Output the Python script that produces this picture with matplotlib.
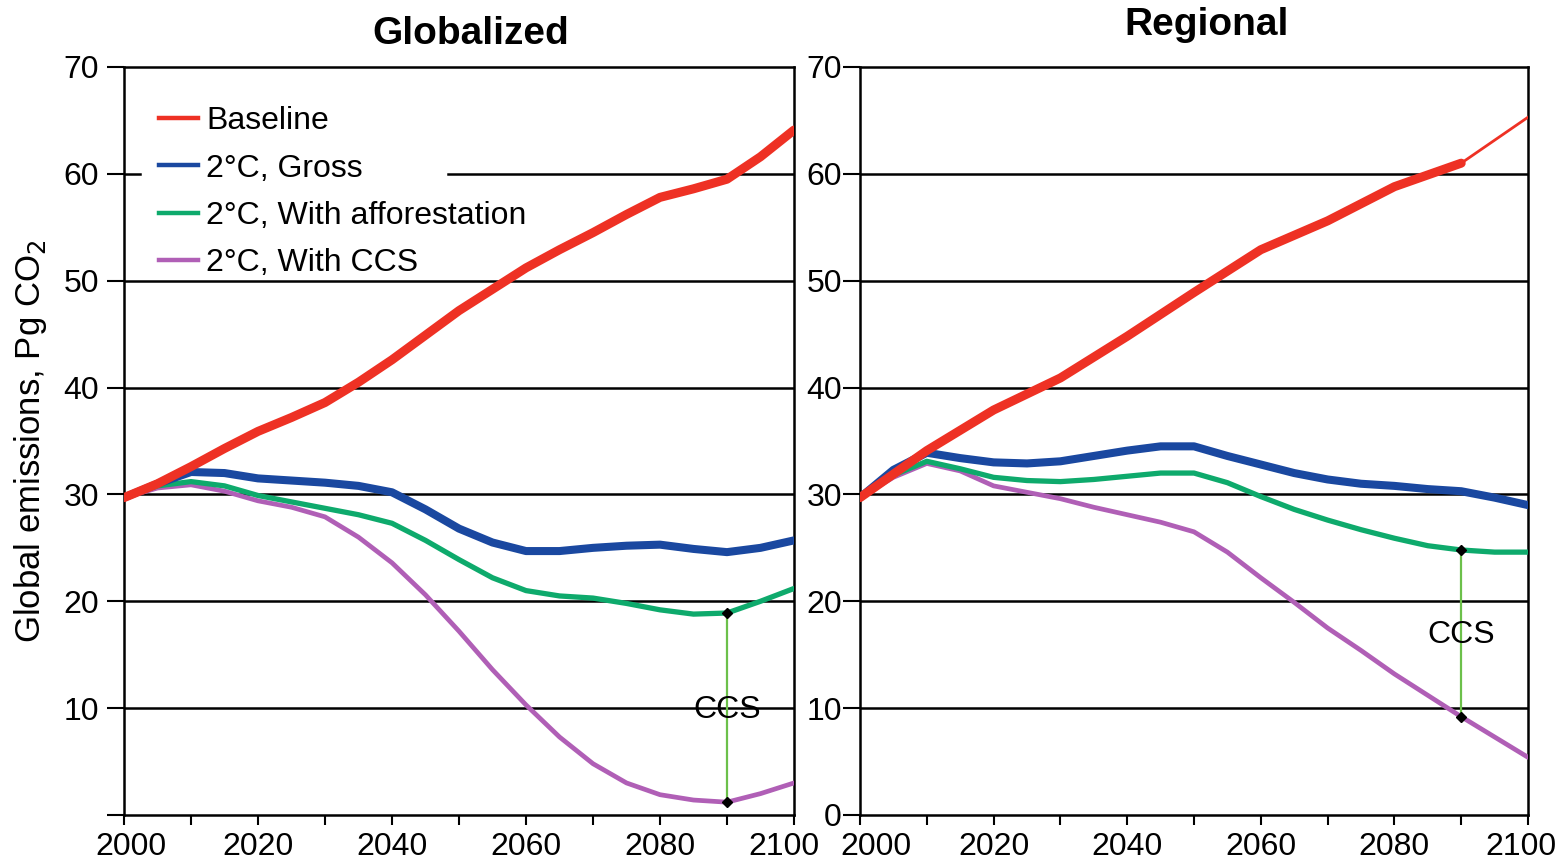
import matplotlib
matplotlib.use("Agg")
import matplotlib.pyplot as plt
from matplotlib.lines import Line2D
from matplotlib.transforms import ScaledTranslation

plt.rcParams['font.family'] = ['Liberation Sans', 'DejaVu Sans']

# ---- data (Pg CO2 per year) ----
years5 = list(range(2000, 2101, 5))
years10 = list(range(2000, 2101, 10))

glob_baseline = [29.7, 31.0, 32.6, 34.3, 35.9, 37.2, 38.6, 40.5, 42.6, 44.9, 47.2,
                 49.2, 51.2, 52.9, 54.5, 56.2, 57.8, 58.6, 59.5, 61.6, 64.1]
glob_gross = [29.7, 31.0, 32.1, 32.0, 31.5, 31.3, 31.1, 30.8, 30.2, 28.6, 26.8,
              25.5, 24.7, 24.7, 25.0, 25.2, 25.3, 24.9, 24.6, 25.0, 25.7]
glob_affor = [29.7, 30.8, 31.2, 30.8, 29.9, 29.3, 28.7, 28.1, 27.3, 25.7, 23.9,
              22.2, 21.0, 20.5, 20.3, 19.8, 19.2, 18.8, 18.9, 20.0, 21.2]
glob_ccs = [29.7, 30.6, 30.9, 30.3, 29.4, 28.8, 27.9, 26.0, 23.6, 20.6, 17.2,
            13.6, 10.3, 7.3, 4.8, 3.0, 1.9, 1.4, 1.2, 2.0, 3.0]

reg_baseline = [29.7, 34.1, 37.9, 40.9, 44.8, 48.9, 52.9, 55.6, 58.8, 61.0, 65.3]
reg_gross = [29.7, 32.3, 33.9, 33.4, 33.0, 32.9, 33.1, 33.6, 34.1, 34.5, 34.5,
             33.6, 32.8, 32.0, 31.4, 31.0, 30.8, 30.5, 30.3, 29.7, 29.0]
reg_affor = [29.7, 31.8, 33.1, 32.4, 31.6, 31.3, 31.2, 31.4, 31.7, 32.0, 32.0,
             31.1, 29.8, 28.6, 27.6, 26.7, 25.9, 25.2, 24.8, 24.6, 24.6]
reg_ccs = [29.7, 31.6, 32.9, 32.2, 30.8, 30.2, 29.6, 28.8, 28.1, 27.4, 26.5,
           24.6, 22.2, 19.9, 17.5, 15.4, 13.2, 11.2, 9.2, 7.3, 5.4]

ccs_year = 2090
glob_ccs_span = (18.9, 1.2)
reg_ccs_span = (24.8, 9.2)

labels = ["Baseline", "2°C, Gross", "2°C, With afforestation", "2°C, With CCS"]
c_red = "#ee3124"
c_blue = "#1a48a0"
c_green = "#0eaa6c"
c_purple = "#b05fb6"
c_ccs = "#6cc04a"

FS = 23

fig = plt.figure(figsize=(15.64, 8.67), dpi=100)
ax1 = fig.add_axes([124/1564, 1-815/867, 670/1564, 748/867])
ax2 = fig.add_axes([860/1564, 1-815/867, 668/1564, 748/867])


def style(ax, show_zero, gap60=None, pad=4, end_shift=(0, 0)):
    ax.set_xlim(2000, 2100)
    ax.set_ylim(0, 70)
    ax.set_xticks(years10, minor=True)
    ax.set_xticks(list(range(2000, 2101, 20)))
    ax.set_yticks(list(range(0, 71, 10)))
    ax.set_yticklabels([("0" if show_zero else "") if v == 0 else str(v)
                        for v in range(0, 71, 10)])
    ax.tick_params(axis='x', which='both', direction='out', length=7, width=1.5,
                   labelsize=FS, pad=5)
    ax.tick_params(axis='y', direction='out', length=12, width=1.5,
                   labelsize=FS, pad=pad)
    # nudge the outermost year labels inward so neighbouring panels don't collide
    xl = ax.get_xticklabels()
    for lab, dx in ((xl[0], end_shift[0]), (xl[-1], end_shift[1])):
        lab.set_transform(lab.get_transform() +
                          ScaledTranslation(dx / 100, 0, fig.dpi_scale_trans))
    for s in ax.spines.values():
        s.set_linewidth(1.8)
        s.set_color('black')
    for v in range(10, 70, 10):
        if gap60 is not None and v == 60:
            ax.axhline(v, xmin=0, xmax=gap60[0], color='black', lw=1.8, zorder=1)
            ax.axhline(v, xmin=gap60[1], xmax=1, color='black', lw=1.8, zorder=1)
        else:
            ax.axhline(v, color='black', lw=1.8, zorder=1)


style(ax1, show_zero=False, gap60=(0.024, 0.484), pad=6, end_shift=(7, -10))
style(ax2, show_zero=True, pad=1, end_shift=(16, -7))

kw = dict(solid_capstyle='round', solid_joinstyle='round')

# Globalized panel
ax1.plot(years5, glob_ccs, color=c_purple, lw=3.4, zorder=3, **kw)
ax1.plot(years5, glob_affor, color=c_green, lw=3.8, zorder=4, **kw)
ax1.plot(years5, glob_gross, color=c_blue, lw=5.8, zorder=5, **kw)
ax1.plot(years5, glob_baseline, color=c_red, lw=6.5, zorder=6, **kw)
ax1.plot([ccs_year, ccs_year], glob_ccs_span, color=c_ccs, lw=1.6, zorder=7)
ax1.plot([ccs_year, ccs_year], glob_ccs_span, ls='none', marker='D', ms=5,
         color='black', zorder=8)
ax1.text(ccs_year, 9.8, "CCS", fontsize=FS, ha='center', va='center', zorder=9)

# Regional panel
ax2.plot(years5, reg_ccs, color=c_purple, lw=3.4, zorder=3, **kw)
ax2.plot(years5, reg_affor, color=c_green, lw=3.8, zorder=4, **kw)
ax2.plot(years5, reg_gross, color=c_blue, lw=5.8, zorder=5, **kw)
ax2.plot(years10[:-1], reg_baseline[:-1], color=c_red, lw=6.5, zorder=6, **kw)
ax2.plot(years10[-2:], reg_baseline[-2:], color=c_red, lw=2.0, zorder=6)
ax2.plot([ccs_year, ccs_year], reg_ccs_span, color=c_ccs, lw=1.6, zorder=7)
ax2.plot([ccs_year, ccs_year], reg_ccs_span, ls='none', marker='D', ms=5,
         color='black', zorder=8)
ax2.text(ccs_year, 16.8, "CCS", fontsize=FS, ha='center', va='center', zorder=9)

# legend
handles = [Line2D([], [], color=c, lw=3.2) for c in (c_red, c_blue, c_green, c_purple)]
ax1.legend(handles, labels, loc='upper left', bbox_to_anchor=(0.005, 0.99),
           frameon=False, fontsize=FS, handlelength=1.22, handletextpad=0.25,
           labelspacing=0.54, borderaxespad=0.6)

ax1.set_ylabel("Global emissions, Pg CO$_2$", fontsize=25, labelpad=10)

fig.text(471/1564, 1-34/867, "Globalized", fontsize=28, fontweight='bold',
         ha='center', va='center')
fig.text(1207/1564, 1-25/867, "Regional", fontsize=28, fontweight='bold',
         ha='center', va='center')

fig.savefig("out.png", dpi=100)
